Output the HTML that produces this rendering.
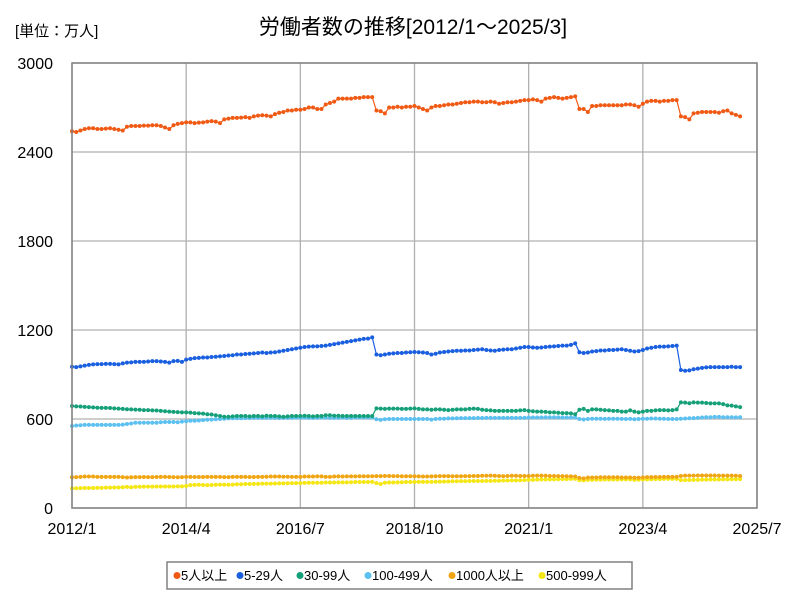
<!DOCTYPE html>
<html><head><meta charset="utf-8"><style>
body{margin:0;background:#fff;}
svg text{font-family:"Liberation Sans","Noto Sans CJK JP",sans-serif;}
</style></head><body>
<svg id="chart" width="800" height="600" xmlns="http://www.w3.org/2000/svg">
<rect width="800" height="600" fill="#fff"/>
<text x="15" y="36" font-size="15" fill="#000">[単位：万人]</text>
<text x="413" y="34" font-size="21" text-anchor="middle" fill="#000">労働者数の推移[2012/1～2025/3]</text>
<g id="grid"></g><g id="series"></g>
<rect x="72" y="63" width="685" height="445" fill="none" stroke="#808080" stroke-width="1.5"/>
<g id="legend">
<rect x="167" y="562" width="465" height="27" fill="#fff" stroke="#808080" stroke-width="1.5"/>
</g>
</svg>
<script>
const seriesNames=["5人以上","5-29人","30-99人","100-499人","1000人以上","500-999人"];
const colors=["#f05a14","#1a5fe0","#16a07a","#5cc0f0","#f0a614","#f5e616"];
const yTicks=[0,600,1200,1800,2400,3000];
const xTickLabels=["2012/1","2014/4","2016/7","2018/10","2021/1","2023/4","2025/7"];
const s5plus=[2540,2535,2545,2555,2560,2560,2555,2555,2558,2560,2555,2550,
2545,2570,2575,2575,2575,2578,2578,2580,2580,2575,2565,2555,
2580,2590,2595,2600,2600,2595,2598,2600,2605,2608,2605,2595,
2620,2625,2630,2630,2632,2635,2630,2640,2645,2648,2645,2640,
2655,2665,2670,2680,2680,2685,2685,2690,2700,2700,2690,2690,
2720,2730,2740,2760,2760,2760,2760,2765,2765,2770,2770,2770,
2680,2675,2660,2700,2700,2705,2700,2705,2705,2710,2700,2690,
2680,2700,2710,2710,2715,2720,2720,2725,2730,2735,2735,2740,
2740,2735,2735,2740,2735,2725,2730,2735,2735,2740,2745,2750,
2750,2755,2750,2740,2760,2765,2770,2765,2760,2765,2770,2775,
2690,2690,2670,2710,2710,2715,2715,2715,2715,2715,2715,2720,
2720,2715,2705,2725,2740,2745,2745,2740,2745,2745,2750,2750,
2640,2635,2620,2660,2665,2670,2670,2670,2670,2665,2675,2680,
2660,2650,2640];
const s5to29=[952,950,955,960,965,968,970,970,972,972,970,968,
975,980,982,985,985,985,988,990,990,988,985,980,
990,992,985,1000,1005,1010,1012,1015,1015,1018,1020,1022,
1025,1028,1030,1035,1035,1038,1040,1042,1045,1048,1045,1048,
1050,1055,1060,1065,1070,1075,1080,1085,1088,1090,1090,1092,
1095,1100,1105,1110,1115,1120,1125,1130,1135,1140,1142,1150,
1035,1030,1035,1040,1042,1045,1045,1048,1050,1052,1050,1048,
1045,1035,1040,1048,1052,1055,1058,1060,1060,1062,1062,1065,
1068,1070,1065,1062,1060,1065,1068,1070,1070,1075,1080,1085,
1085,1082,1080,1082,1085,1088,1090,1092,1095,1095,1100,1110,
1050,1045,1048,1055,1058,1062,1062,1065,1065,1068,1070,1065,
1060,1055,1058,1065,1075,1080,1085,1088,1088,1090,1092,1095,
930,925,928,935,940,945,948,950,950,950,950,950,
952,950,950];
const s30to99=[688,685,684,682,680,678,676,675,675,674,672,670,
668,666,665,663,662,660,660,658,657,655,652,650,
648,646,645,645,643,640,638,636,632,630,625,620,
615,615,618,620,620,620,618,620,620,618,622,620,
620,618,615,618,620,620,620,622,620,618,620,620,
625,625,622,622,620,620,620,620,620,620,620,620,
672,670,668,670,670,670,668,668,670,672,668,665,
665,662,665,665,662,660,662,665,665,665,668,670,
668,662,660,658,655,655,655,655,655,655,658,660,
655,652,650,650,648,645,645,642,640,640,638,632,
662,668,655,665,665,662,660,658,655,655,650,650,
658,650,645,650,655,655,658,660,660,658,660,665,
712,710,706,712,710,710,708,705,705,705,700,692,
690,685,680];
const s100to499=[553,556,558,560,560,560,560,560,560,560,560,560,
562,566,570,575,575,575,575,575,575,578,580,580,
580,578,582,585,588,588,590,592,595,596,598,600,
602,604,605,605,605,606,607,608,608,608,608,608,
608,607,608,608,608,609,608,609,608,608,608,609,
609,608,608,608,609,608,608,610,610,610,610,610,
598,594,598,600,600,600,600,600,600,600,600,600,
600,596,600,602,602,604,604,605,606,606,606,606,
607,607,608,608,608,608,608,608,608,608,608,608,
610,610,610,610,611,611,611,611,610,610,610,610,
600,597,600,602,602,602,601,602,602,602,601,600,
601,598,600,602,602,603,603,602,602,600,600,600,
602,603,605,606,608,610,612,612,614,614,612,612,
612,611,612];
const s1000plus=[207,208,210,212,212,212,210,210,210,210,210,210,
208,206,207,208,208,209,208,208,209,210,210,209,
208,207,208,210,210,209,209,209,210,210,210,210,
208,208,210,210,210,210,209,209,210,210,211,212,
212,212,211,211,210,210,210,212,212,212,213,213,
210,210,212,213,212,213,213,213,214,214,214,214,
215,215,216,216,215,215,214,214,214,214,213,212,
212,213,214,215,215,215,214,214,214,215,215,216,
216,217,217,218,217,216,215,216,217,217,216,216,
216,217,218,218,217,216,216,215,215,214,213,212,
203,200,205,206,206,207,207,207,207,207,206,206,
206,204,204,206,208,208,209,209,210,210,210,210,
216,218,218,218,219,219,219,219,219,218,218,218,
218,217,216];
const s500to999=[132,133,134,135,135,135,136,136,137,137,138,138,
140,142,140,142,143,144,144,144,145,145,145,145,
145,146,146,148,154,156,157,155,154,155,157,158,
158,157,158,160,160,162,162,163,163,164,164,164,
165,166,166,167,168,168,168,169,170,170,170,170,
172,172,172,173,173,173,174,175,175,175,175,176,
168,162,170,172,172,173,174,175,175,175,176,176,
176,176,177,178,178,179,180,180,181,181,182,182,
182,182,183,183,184,184,185,185,186,186,187,188,
190,190,191,192,192,193,193,194,195,195,196,196,
188,186,190,190,191,191,192,192,192,192,193,193,
193,190,191,192,193,194,195,195,196,196,196,196,
188,188,189,190,190,191,191,192,192,192,193,193,
194,194,195];
const allSeries=[s5plus,s5to29,s30to99,s100to499,s1000plus,s500to999];
const NS="http://www.w3.org/2000/svg";
const X0=72,X1=757,Y0=508,Y1=63,MONTHS=162,YMAX=3000;
const xs=i=>X0+(X1-X0)*i/MONTHS;
const ys=v=>Y0-(Y0-Y1)*v/YMAX;
function mk(tag,attrs,parent){const e=document.createElementNS(NS,tag);for(const k in attrs)e.setAttribute(k,attrs[k]);parent.appendChild(e);return e;}
const grid=document.getElementById('grid');
yTicks.forEach(v=>{
  const l=mk('line',{x1:X0,x2:X1,y1:ys(v),y2:ys(v),stroke:'#b0b0b0','stroke-width':1.3},grid);
  
  
  const t=mk('text',{x:53,y:ys(v)+6,'font-size':16,'text-anchor':'end',fill:'#000'},grid);
  t.textContent=v;
  
  
});
xTickLabels.forEach((lab,k)=>{
  const x=xs(k*27);
  const l=mk('line',{x1:x,x2:x,y1:Y1,y2:Y0,stroke:'#b0b0b0','stroke-width':1.3},grid);
  
  
  const t=mk('text',{x:x,y:534,'font-size':16,'text-anchor':'middle',fill:'#000'},grid);
  t.textContent=lab;
  
  
});
const sg=document.getElementById('series');
[5,4,3,2,1,0].forEach(si=>{
  const d=allSeries[si];
  const g=mk('g',{},sg);
  
  
  const pts=d.map((v,i)=>xs(i).toFixed(1)+','+ys(v).toFixed(1)).join(' ');
  const pl=mk('polyline',{points:pts,fill:'none',stroke:colors[si],'stroke-width':1.2},g);
  
  
  d.forEach((v,i)=>{
    const c=mk('circle',{cx:xs(i),cy:ys(v),r:2,fill:colors[si]},g);
    
    
  });
});
const lg=document.getElementById('legend');
const lx=[177,240,300,368,452,542];
seriesNames.forEach((n,i)=>{
  const c=mk('circle',{cx:lx[i],cy:575.5,r:3.5,fill:colors[i]},lg);
  
  
  const t=mk('text',{x:lx[i]+4,y:580,'font-size':13,fill:'#000'},lg);
  t.textContent=n;
  
  
});
</script>
</body></html>
